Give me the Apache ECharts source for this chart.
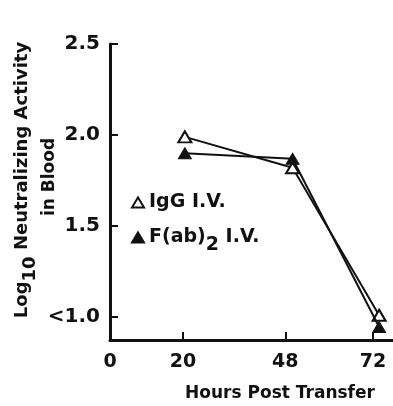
<!DOCTYPE html>
<html>
<head>
<meta charset="utf-8">
<script src="https://cdn.jsdelivr.net/npm/echarts@6/dist/echarts.min.js"></script>
<style>
  html, body { margin: 0; padding: 0; background: #fff; }
  #chart { width: 393px; height: 406px; }
</style>
</head>
<body>
<div id="chart"></div>
<script>
const hours = [20.5, 50, 73.7];
const iggIV = [1.99, 1.82, 1.01];
const fabIV = [1.90, 1.87, 0.945];
const xTickLabels = [0, 20, 48, 72];
const xTicks = [20, 48, 72];
const yTickLabels = [1.0, 1.5, 2.0, 2.5];

const font = 'DejaVu Sans';
const ink = '#111';

// rich styles for the lowered "2" / "10"
function lowered(size) {
  return {
    n: { fontFamily: font, fontWeight: 'bold', fontSize: size, color: ink, fill: ink, lineHeight: size + 1, verticalAlign: 'middle' },
    s: { fontFamily: font, fontWeight: 'bold', fontSize: size, color: ink, fill: ink, lineHeight: size + 1, verticalAlign: 'middle', padding: [16, 0, 0, 0] }
  };
}

const chart = echarts.init(document.getElementById('chart'));
chart.setOption({
  animation: false,
  grid: { left: 110, right: 0, top: 44, bottom: 66, outerBoundsMode: 'none' },
  xAxis: {
    type: 'value',
    min: 0,
    max: 77.5,
    axisLine: { show: true, lineStyle: { color: ink, width: 3 } },
    axisTick: { show: true, inside: true, length: 8, customValues: xTicks, lineStyle: { color: ink, width: 2 } },
    axisLabel: {
      customValues: xTickLabels,
      margin: 13,
      color: ink,
      fontFamily: font,
      fontWeight: 'bold',
      fontSize: 19
    },
    splitLine: { show: false }
  },
  yAxis: {
    type: 'value',
    min: 0.874,
    max: 2.5,
    axisLine: { show: true, lineStyle: { color: ink, width: 3 } },
    axisTick: { show: true, inside: true, length: 8, customValues: yTickLabels, lineStyle: { color: ink, width: 2 } },
    axisLabel: {
      customValues: yTickLabels,
      margin: 10,
      color: ink,
      fontFamily: font,
      fontWeight: 'bold',
      fontSize: 20,
      formatter: v => (v === 1 ? '<1.0' : v.toFixed(1))
    },
    splitLine: { show: false }
  },
  legend: {
    orient: 'vertical',
    left: 126,
    top: 188,
    itemWidth: 12,
    itemHeight: 10,
    itemGap: 8,
    data: [
      { name: 'IgG I.V.', icon: 'triangle' },
      { name: 'F(ab)2 I.V.', icon: 'triangle' }
    ],
    formatter: name => (name === 'IgG I.V.' ? '{n|IgG I.V.}' : '{n|F(ab)}{s|2}{n| I.V.}'),
    textStyle: { rich: lowered(19) }
  },
  graphic: [
    {
      type: 'text',
      x: 22,
      y: 180,
      rotation: Math.PI / 2,
      style: {
        text: '{n|Log}{s|10}{n| Neutralizing Activity}',
        rich: lowered(18),
        align: 'center',
        verticalAlign: 'middle'
      }
    },
    {
      type: 'text',
      x: 50,
      y: 177,
      rotation: Math.PI / 2,
      style: {
        text: 'in Blood',
        fill: ink,
        font: 'bold 17px ' + font,
        align: 'center',
        verticalAlign: 'middle'
      }
    },
    {
      type: 'text',
      x: 280,
      y: 394,
      style: {
        text: 'Hours Post Transfer',
        fill: ink,
        font: 'bold 17px ' + font,
        align: 'center',
        verticalAlign: 'middle'
      }
    }
  ],
  series: [
    {
      name: 'IgG I.V.',
      type: 'line',
      data: hours.map((h, i) => [h, iggIV[i]]),
      symbol: 'triangle',
      symbolSize: [13, 11],
      itemStyle: { color: '#fff', borderColor: ink, borderWidth: 2 },
      lineStyle: { color: ink, width: 2 },
      z: 3
    },
    {
      name: 'F(ab)2 I.V.',
      type: 'line',
      data: hours.map((h, i) => [h, fabIV[i]]),
      symbol: 'triangle',
      symbolSize: [13, 11],
      itemStyle: { color: ink, borderColor: ink, borderWidth: 1 },
      lineStyle: { color: ink, width: 2 },
      z: 4
    }
  ]
});
</script>
</body>
</html>
